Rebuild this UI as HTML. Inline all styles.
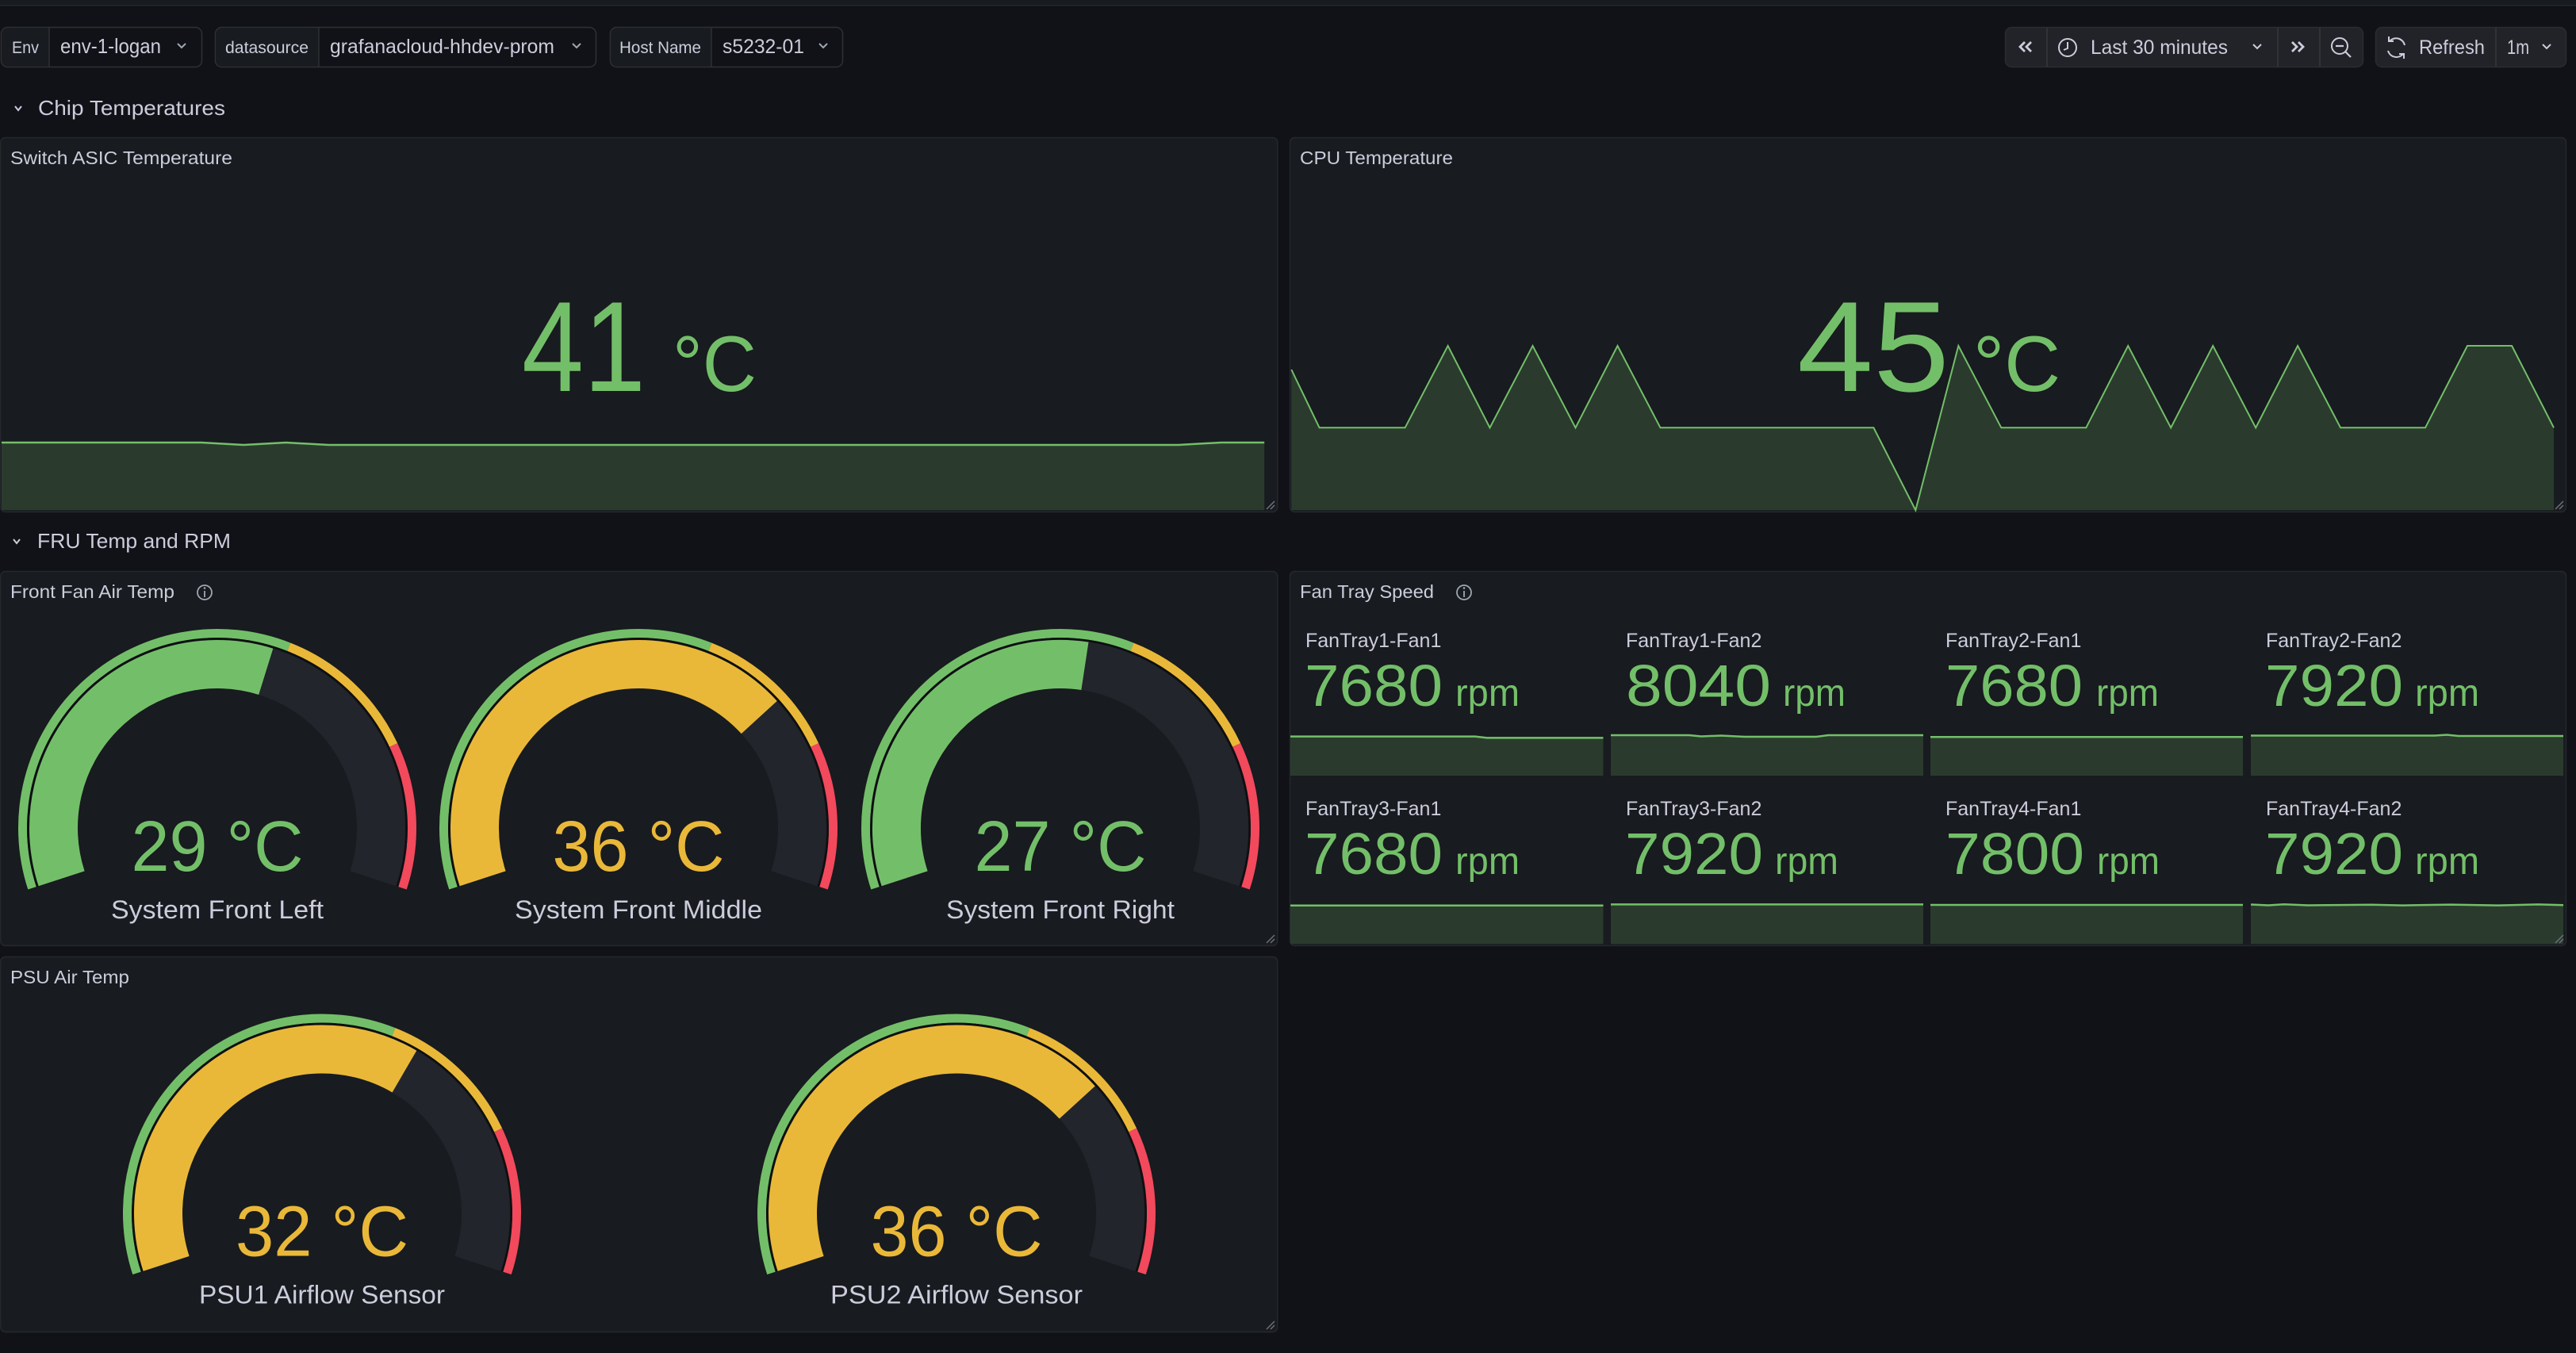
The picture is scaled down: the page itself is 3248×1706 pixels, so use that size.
<!DOCTYPE html>
<html><head><meta charset="utf-8"><style>
html,body{margin:0;padding:0;background:#111217;width:3248px;height:1706px;overflow:hidden}
svg{display:block}
text{font-family:"Liberation Sans",sans-serif}
</style></head><body>
<svg width="3248" height="1706" viewBox="0 0 3248 1706" xmlns="http://www.w3.org/2000/svg">
<defs>
<g id="band">
 <path d="M-233.49,75.86 A245.5,245.5 0 0 1 90.37,-228.26" fill="none" stroke="#73BF69" stroke-width="11"/>
 <path d="M90.37,-228.26 A245.5,245.5 0 0 1 222.14,-104.53" fill="none" stroke="#EAB839" stroke-width="11"/>
 <path d="M222.14,-104.53 A245.5,245.5 0 0 1 233.49,75.86" fill="none" stroke="#F2495C" stroke-width="11"/>
 <path d="M-226.92,73.73 A238.6,238.6 0 1 1 226.92,73.73" fill="none" stroke="#0e0f12" stroke-width="2.5"/>
</g>
</defs>
<rect x="0" y="0" width="3248" height="1706" fill="#111217"/>
<rect x="0" y="0" width="3248" height="6.5" fill="#181b1f"/>
<line x1="0" y1="7" x2="3248" y2="7" stroke="#26282e" stroke-width="1.5"/>

<!-- variable controls -->
<g fill="#ccccdc">
<rect x="1.5" y="34.5" width="253" height="50" rx="8" fill="#111217" stroke="#2e3036" stroke-width="1.5"/>
<path d="M9.5,35.25 H62 V83.75 H9.5 A7.25,7.25 0 0 1 2.25,76.5 V42.5 A7.25,7.25 0 0 1 9.5,35.25Z" fill="#181b1f"/>
<line x1="62" y1="35" x2="62" y2="84" stroke="#2e3036" stroke-width="1.5"/>
<text x="15" y="67" font-size="21" textLength="34" lengthAdjust="spacingAndGlyphs">Env</text>
<text x="76" y="67" font-size="26" textLength="127" lengthAdjust="spacingAndGlyphs">env-1-logan</text>
<polyline points="224,55 229,60 234,55" fill="none" stroke="#9fa7b3" stroke-width="2"/>

<rect x="271.5" y="34.5" width="480" height="50" rx="8" fill="#111217" stroke="#2e3036" stroke-width="1.5"/>
<path d="M279.5,35.25 H402 V83.75 H279.5 A7.25,7.25 0 0 1 272.25,76.5 V42.5 A7.25,7.25 0 0 1 279.5,35.25Z" fill="#181b1f"/>
<line x1="402" y1="35" x2="402" y2="84" stroke="#2e3036" stroke-width="1.5"/>
<text x="284" y="67" font-size="21" textLength="105" lengthAdjust="spacingAndGlyphs">datasource</text>
<text x="416" y="67" font-size="25" textLength="283" lengthAdjust="spacingAndGlyphs">grafanacloud-hhdev-prom</text>
<polyline points="722,55 727,60 732,55" fill="none" stroke="#9fa7b3" stroke-width="2"/>

<rect x="769.5" y="34.5" width="293" height="50" rx="8" fill="#111217" stroke="#2e3036" stroke-width="1.5"/>
<path d="M777.5,35.25 H897 V83.75 H777.5 A7.25,7.25 0 0 1 770.25,76.5 V42.5 A7.25,7.25 0 0 1 777.5,35.25Z" fill="#181b1f"/>
<line x1="897" y1="35" x2="897" y2="84" stroke="#2e3036" stroke-width="1.5"/>
<text x="781" y="67" font-size="21" textLength="103" lengthAdjust="spacingAndGlyphs">Host Name</text>
<text x="911" y="67" font-size="25" textLength="103" lengthAdjust="spacingAndGlyphs">s5232-01</text>
<polyline points="1033,55 1038,60 1043,55" fill="none" stroke="#9fa7b3" stroke-width="2"/>
</g>

<!-- time picker -->
<g fill="#ccccdc">
<rect x="2528.5" y="34.5" width="451" height="50" rx="8" fill="#212328" stroke="#2a2c32" stroke-width="1.5"/>
<line x1="2581" y1="35" x2="2581" y2="84" stroke="#35373d" stroke-width="1.5"/>
<line x1="2872" y1="35" x2="2872" y2="84" stroke="#35373d" stroke-width="1.5"/>
<line x1="2925" y1="35" x2="2925" y2="84" stroke="#35373d" stroke-width="1.5"/>
<polyline points="2553,53 2547,59 2553,65" fill="none" stroke="#ccccdc" stroke-width="2.8"/>
<polyline points="2561,53 2555,59 2561,65" fill="none" stroke="#ccccdc" stroke-width="2.8"/>
<circle cx="2607" cy="60" r="11" fill="none" stroke="#ccccdc" stroke-width="2"/>
<polyline points="2607,53 2607,61 2602,63" fill="none" stroke="#ccccdc" stroke-width="2"/>
<text x="2636" y="68" font-size="25" textLength="173" lengthAdjust="spacingAndGlyphs">Last 30 minutes</text>
<polyline points="2841,56 2846,61 2851,56" fill="none" stroke="#ccccdc" stroke-width="2"/>
<polyline points="2890,53 2896,59 2890,65" fill="none" stroke="#ccccdc" stroke-width="2.8"/>
<polyline points="2898,53 2904,59 2898,65" fill="none" stroke="#ccccdc" stroke-width="2.8"/>
<circle cx="2950" cy="58" r="10" fill="none" stroke="#ccccdc" stroke-width="2"/>
<line x1="2957" y1="65" x2="2964" y2="72" stroke="#ccccdc" stroke-width="2.2"/>
<line x1="2945" y1="58" x2="2955" y2="58" stroke="#ccccdc" stroke-width="2.2"/>

<rect x="2995.5" y="34.5" width="240" height="50" rx="8" fill="#212328" stroke="#2a2c32" stroke-width="1.5"/>
<line x1="3147" y1="35" x2="3147" y2="84" stroke="#35373d" stroke-width="1.5"/>
<path d="M3013,52 A11,11 0 0 1 3032,57" fill="none" stroke="#ccccdc" stroke-width="2"/>
<path d="M3030,68 A11,11 0 0 1 3011,64" fill="none" stroke="#ccccdc" stroke-width="2"/>
<polyline points="3012,46 3012,52 3018,52" fill="none" stroke="#ccccdc" stroke-width="2"/>
<polyline points="3031,74 3031,68 3025,68" fill="none" stroke="#ccccdc" stroke-width="2"/>
<text x="3050" y="68" font-size="25" textLength="83" lengthAdjust="spacingAndGlyphs">Refresh</text>
<text x="3161" y="68" font-size="25" textLength="28" lengthAdjust="spacingAndGlyphs">1m</text>
<polyline points="3206,56 3211,61 3216,56" fill="none" stroke="#ccccdc" stroke-width="2"/>
</g>

<!-- row headers -->
<polyline points="19,134 23,139 27,134" fill="none" stroke="#ccccdc" stroke-width="2"/>
<text x="48" y="145" font-size="26" fill="#ccccdc" textLength="236" lengthAdjust="spacingAndGlyphs">Chip Temperatures</text>
<polyline points="17,680 21,685 25,680" fill="none" stroke="#ccccdc" stroke-width="2"/>
<text x="47" y="691" font-size="26" fill="#ccccdc" textLength="244" lengthAdjust="spacingAndGlyphs">FRU Temp and RPM</text>

<!-- panels -->
<g fill="#181b1f" stroke="#25272c" stroke-width="1.5">
<rect x="0.75" y="173.5" width="1610" height="472" rx="6"/>
<rect x="1626.5" y="173.5" width="1609" height="472" rx="6"/>
<rect x="0.75" y="720.5" width="1610" height="472" rx="6"/>
<rect x="1626.5" y="720.5" width="1609" height="472" rx="6"/>
<rect x="0.75" y="1206.5" width="1610" height="473" rx="6"/>
</g>

<!-- panel titles -->
<g fill="#ccccdc" font-size="23.5">
<text x="13" y="207" textLength="280" lengthAdjust="spacingAndGlyphs">Switch ASIC Temperature</text>
<text x="1639" y="207" textLength="193" lengthAdjust="spacingAndGlyphs">CPU Temperature</text>
<text x="13" y="754" textLength="207" lengthAdjust="spacingAndGlyphs">Front Fan Air Temp</text>
<text x="1639" y="754" textLength="169" lengthAdjust="spacingAndGlyphs">Fan Tray Speed</text>
<text x="13" y="1240" textLength="150" lengthAdjust="spacingAndGlyphs">PSU Air Temp</text>
</g>
<g fill="none" stroke="#9fa7b3" stroke-width="1.8">
<circle cx="258" cy="747" r="9"/>
<line x1="258" y1="745" x2="258" y2="753"/>
<circle cx="1846" cy="747" r="9"/>
<line x1="1846" y1="745" x2="1846" y2="753"/>
</g>
<circle cx="258" cy="741.5" r="1.3" fill="#9fa7b3"/>
<circle cx="1846" cy="741.5" r="1.3" fill="#9fa7b3"/>

<!-- Switch ASIC chart -->
<polygon points="2,558 254,558 307,561 360.6,558 414.3,561 1485.7,561 1539.5,558 1594.2,558 1594.2,643.3 2,643.3" fill="#2a3b2e"/>
<polyline points="2,558 254,558 307,561 360.6,558 414.3,561 1485.7,561 1539.5,558 1594.2,558" fill="none" stroke="#73BF69" stroke-width="2.5"/>
<text x="658" y="493" font-size="162" fill="#73BF69" textLength="156" lengthAdjust="spacingAndGlyphs">41</text>
<text x="848" y="493" font-size="99" fill="#73BF69" textLength="106" lengthAdjust="spacingAndGlyphs">°C</text>

<!-- CPU chart -->
<polygon points="1628.3,466 1663.6,539.3 1771.6,539.3 1825.6,436 1878.5,539.3 1932.5,436 1986.5,539.3 2039.5,436 2093.5,539.3 2362.4,539.3 2415.3,643.3 2469.3,436 2523.3,539.3 2630.3,539.3 2683.2,436 2737.2,539.3 2790.2,436 2844.2,539.3 2897.1,436 2951.1,539.3 3058,539.3 3111,436 3167.1,436 3220,539.3 3220,643.3 1628.3,643.3" fill="#2a3b2e"/>
<polyline points="1628.3,466 1663.6,539.3 1771.6,539.3 1825.6,436 1878.5,539.3 1932.5,436 1986.5,539.3 2039.5,436 2093.5,539.3 2362.4,539.3 2415.3,643.3 2469.3,436 2523.3,539.3 2630.3,539.3 2683.2,436 2737.2,539.3 2790.2,436 2844.2,539.3 2897.1,436 2951.1,539.3 3058,539.3 3111,436 3167.1,436 3220,539.3" fill="none" stroke="#73BF69" stroke-width="2"/>
<text x="2266" y="493" font-size="162" fill="#73BF69" textLength="192" lengthAdjust="spacingAndGlyphs">45</text>
<text x="2488" y="493" font-size="99" fill="#73BF69" textLength="110" lengthAdjust="spacingAndGlyphs">°C</text>

<!-- Gauges: Front Fan -->
<g transform="translate(274,1044)">
 <use href="#band"/>
 <path d="M-196.39,63.81 A206.5,206.5 0 0 1 61.34,-197.18" fill="none" stroke="#73BF69" stroke-width="61"/>
 <path d="M61.34,-197.18 A206.5,206.5 0 0 1 196.39,63.81" fill="none" stroke="#22252b" stroke-width="61"/>
 <text x="0" y="54" font-size="90" fill="#73BF69" text-anchor="middle" textLength="217" lengthAdjust="spacingAndGlyphs">29 °C</text>
 <text x="0" y="114" font-size="32" fill="#ccccdc" text-anchor="middle" textLength="268" lengthAdjust="spacingAndGlyphs">System Front Left</text>
</g>
<g transform="translate(805,1044)">
 <use href="#band"/>
 <path d="M-196.39,63.81 A206.5,206.5 0 0 1 152.31,-139.44" fill="none" stroke="#EAB839" stroke-width="61"/>
 <path d="M152.31,-139.44 A206.5,206.5 0 0 1 196.39,63.81" fill="none" stroke="#22252b" stroke-width="61"/>
 <text x="0" y="54" font-size="90" fill="#EAB839" text-anchor="middle" textLength="217" lengthAdjust="spacingAndGlyphs">36 °C</text>
 <text x="0" y="114" font-size="32" fill="#ccccdc" text-anchor="middle" textLength="312" lengthAdjust="spacingAndGlyphs">System Front Middle</text>
</g>
<g transform="translate(1337,1044)">
 <use href="#band"/>
 <path d="M-196.39,63.81 A206.5,206.5 0 0 1 31.02,-204.16" fill="none" stroke="#73BF69" stroke-width="61"/>
 <path d="M31.02,-204.16 A206.5,206.5 0 0 1 196.39,63.81" fill="none" stroke="#22252b" stroke-width="61"/>
 <text x="0" y="54" font-size="90" fill="#73BF69" text-anchor="middle" textLength="217" lengthAdjust="spacingAndGlyphs">27 °C</text>
 <text x="0" y="114" font-size="32" fill="#ccccdc" text-anchor="middle" textLength="288" lengthAdjust="spacingAndGlyphs">System Front Right</text>
</g>

<!-- Gauges: PSU -->
<g transform="translate(406,1529.5)">
 <use href="#band"/>
 <path d="M-196.39,63.81 A206.5,206.5 0 0 1 104.00,-178.40" fill="none" stroke="#EAB839" stroke-width="61"/>
 <path d="M104.00,-178.40 A206.5,206.5 0 0 1 196.39,63.81" fill="none" stroke="#22252b" stroke-width="61"/>
 <text x="0" y="54" font-size="90" fill="#EAB839" text-anchor="middle" textLength="218" lengthAdjust="spacingAndGlyphs">32 °C</text>
 <text x="0" y="114" font-size="32" fill="#ccccdc" text-anchor="middle" textLength="310" lengthAdjust="spacingAndGlyphs">PSU1 Airflow Sensor</text>
</g>
<g transform="translate(1206,1529.5)">
 <use href="#band"/>
 <path d="M-196.39,63.81 A206.5,206.5 0 0 1 152.31,-139.44" fill="none" stroke="#EAB839" stroke-width="61"/>
 <path d="M152.31,-139.44 A206.5,206.5 0 0 1 196.39,63.81" fill="none" stroke="#22252b" stroke-width="61"/>
 <text x="0" y="54" font-size="90" fill="#EAB839" text-anchor="middle" textLength="217" lengthAdjust="spacingAndGlyphs">36 °C</text>
 <text x="0" y="114" font-size="32" fill="#ccccdc" text-anchor="middle" textLength="318" lengthAdjust="spacingAndGlyphs">PSU2 Airflow Sensor</text>
</g>

<!-- Fan tray sparklines -->
<g fill="#2a3b2e">
<rect x="1627" y="929" width="394.5" height="49"/>
<rect x="2031" y="927.5" width="394" height="50.5"/>
<rect x="2434" y="929.3" width="394" height="48.7"/>
<rect x="2838" y="927.5" width="394" height="50.5"/>
<rect x="1627" y="1141.8" width="394.5" height="48.5"/>
<rect x="2031" y="1140.4" width="394" height="50"/>
<rect x="2434" y="1141" width="394" height="49.3"/>
<rect x="2838" y="1140.5" width="394" height="49.8"/>
</g>
<g fill="none" stroke="#73BF69" stroke-width="2.5">
<polyline points="1627,928.6 1860,928.6 1875,930.4 2021.5,930.4"/>
<polyline points="2031,927 2130,927 2145,928.5 2170,927.5 2200,929 2290,929 2305,927 2425,927"/>
<polyline points="2434,929.3 2828,929.3"/>
<polyline points="2838,927.5 3070,927.5 3085,926.5 3100,928 3232,928"/>
<polyline points="1627,1141.8 2021.5,1141.8"/>
<polyline points="2031,1140.4 2425,1140.4"/>
<polyline points="2434,1141 2828,1141"/>
<polyline points="2838,1140.5 2860,1141.5 2880,1140.2 2910,1141.5 2990,1140.8 3030,1141.6 3090,1140.6 3150,1141.6 3200,1140.4 3232,1141.2"/>
</g>

<!-- Fan tray text -->
<g fill="#ccccdc" font-size="25">
<text x="1646" y="816">FanTray1-Fan1</text>
<text x="2050" y="816">FanTray1-Fan2</text>
<text x="2453" y="816">FanTray2-Fan1</text>
<text x="2857" y="816">FanTray2-Fan2</text>
<text x="1646" y="1028">FanTray3-Fan1</text>
<text x="2050" y="1028">FanTray3-Fan2</text>
<text x="2453" y="1028">FanTray4-Fan1</text>
<text x="2857" y="1028">FanTray4-Fan2</text>
</g>
<g fill="#73BF69">
<text x="1645" y="890" font-size="74" textLength="174" lengthAdjust="spacingAndGlyphs">7680</text>
<text x="1835" y="890" font-size="48" textLength="81" lengthAdjust="spacingAndGlyphs">rpm</text>
<text x="2050" y="890" font-size="74" textLength="183" lengthAdjust="spacingAndGlyphs">8040</text>
<text x="2248" y="890" font-size="48" textLength="79" lengthAdjust="spacingAndGlyphs">rpm</text>
<text x="2453" y="890" font-size="74" textLength="173" lengthAdjust="spacingAndGlyphs">7680</text>
<text x="2643" y="890" font-size="48" textLength="79" lengthAdjust="spacingAndGlyphs">rpm</text>
<text x="2856" y="890" font-size="74" textLength="174" lengthAdjust="spacingAndGlyphs">7920</text>
<text x="3045" y="890" font-size="48" textLength="81" lengthAdjust="spacingAndGlyphs">rpm</text>

<text x="1645" y="1102" font-size="74" textLength="174" lengthAdjust="spacingAndGlyphs">7680</text>
<text x="1835" y="1102" font-size="48" textLength="81" lengthAdjust="spacingAndGlyphs">rpm</text>
<text x="2049" y="1102" font-size="74" textLength="174" lengthAdjust="spacingAndGlyphs">7920</text>
<text x="2238" y="1102" font-size="48" textLength="80" lengthAdjust="spacingAndGlyphs">rpm</text>
<text x="2453" y="1102" font-size="74" textLength="175" lengthAdjust="spacingAndGlyphs">7800</text>
<text x="2644" y="1102" font-size="48" textLength="79" lengthAdjust="spacingAndGlyphs">rpm</text>
<text x="2856" y="1102" font-size="74" textLength="174" lengthAdjust="spacingAndGlyphs">7920</text>
<text x="3045" y="1102" font-size="48" textLength="81" lengthAdjust="spacingAndGlyphs">rpm</text>
</g>

<!-- resize handles -->
<g stroke="#6e7079" stroke-width="1.5">
<line x1="1597" y1="642" x2="1607" y2="632"/><line x1="1602" y1="642" x2="1607" y2="637"/>
<line x1="3222" y1="642" x2="3232" y2="632"/><line x1="3227" y1="642" x2="3232" y2="637"/>
<line x1="1597" y1="1189" x2="1607" y2="1179"/><line x1="1602" y1="1189" x2="1607" y2="1184"/>
<line x1="3222" y1="1189" x2="3232" y2="1179"/><line x1="3227" y1="1189" x2="3232" y2="1184"/>
<line x1="1597" y1="1676" x2="1607" y2="1666"/><line x1="1602" y1="1676" x2="1607" y2="1671"/>
</g>
</svg>
</body></html>
